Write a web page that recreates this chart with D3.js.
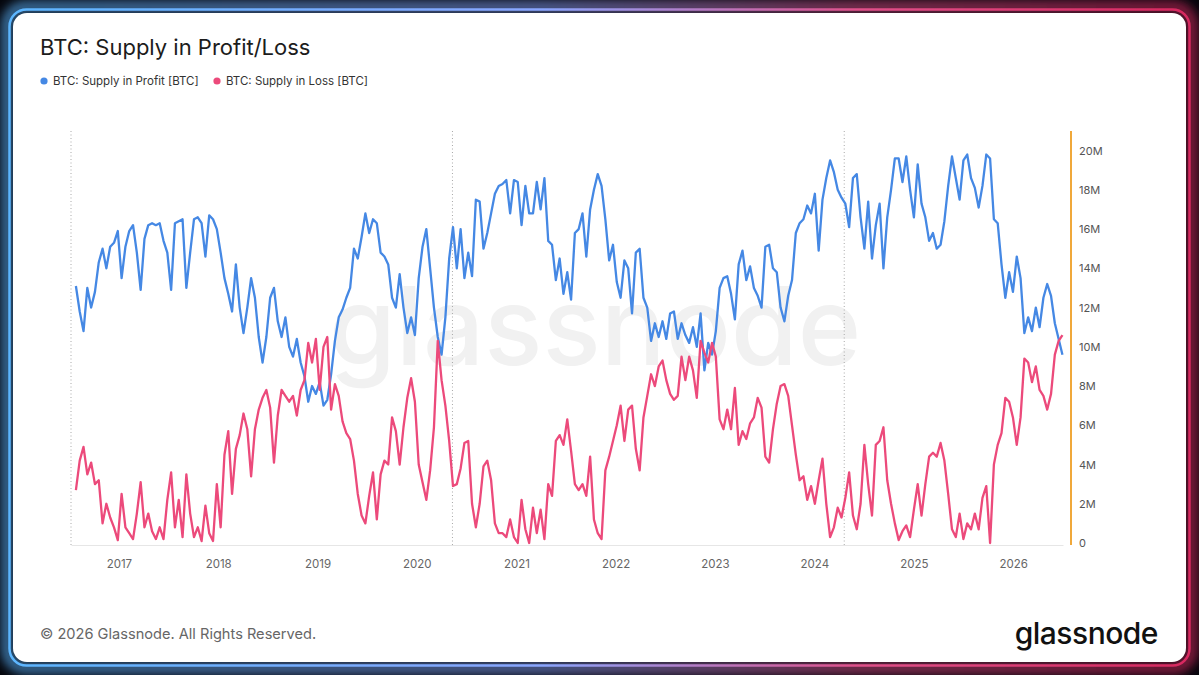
<!DOCTYPE html>
<html>
<head>
<meta charset="utf-8">
<script src="https://cdn.jsdelivr.net/npm/d3@7"></script>
<style>
  html, body { margin: 0; padding: 0; background: #05060c; }
  svg { display: block; }
</style>
</head>
<body>
<svg id="chart"></svg>
<script>
// first sample date and spacing (every 14 days)
const startDate = new Date(2016, 6, 27);
const stepDays = 14;

// BTC: Supply in Profit, millions of BTC
const profit = [
  13.1, 11.8, 10.8, 13.0, 12.0, 12.8, 14.3, 15.0, 14.0, 15.1,
  15.3, 15.9, 13.5, 15.1, 15.9, 16.2, 14.8, 12.9, 15.5, 16.2,
  16.3, 16.2, 16.3, 15.4, 14.8, 12.9, 16.3, 16.4, 16.5, 13.0,
  14.8, 16.5, 16.6, 16.3, 14.6, 16.7, 16.5, 16.0, 14.8, 13.5,
  12.7, 11.8, 14.2, 12.0, 10.7, 12.0, 13.5, 12.5, 10.5, 9.2,
  10.5, 12.5, 13.0, 11.3, 10.5, 11.5, 10.0, 9.5, 10.4, 9.2,
  8.5, 7.2, 8.0, 7.6, 8.2, 7.0, 7.3, 8.6, 10.3, 11.5,
  11.9, 12.5, 13.0, 15.0, 14.5, 15.6, 16.8, 15.8, 16.5, 16.3,
  14.8, 14.6, 14.2, 12.5, 12.0, 13.7, 12.0, 10.7, 11.5, 10.6,
  13.5, 15.1, 16.0, 14.0, 12.0, 10.5, 9.6, 11.5, 14.5, 16.1,
  14.0, 16.0, 13.5, 14.8, 13.6, 17.5, 17.4, 15.0, 15.8, 16.8,
  17.8, 18.2, 18.3, 18.5, 16.8, 18.5, 18.4, 16.2, 18.2, 16.8,
  16.8, 18.4, 17.0, 18.6, 15.4, 15.2, 13.4, 14.5, 12.7, 13.8,
  12.4, 15.8, 16.0, 16.8, 14.6, 17.0, 18.0, 18.8, 18.2, 16.5,
  14.4, 15.2, 13.3, 12.5, 14.4, 14.0, 11.7, 14.8, 15.0, 12.5,
  12.0, 10.3, 11.2, 10.5, 11.3, 10.4, 11.7, 11.8, 10.4, 11.2,
  10.6, 10.2, 11.0, 10.0, 11.7, 8.8, 10.2, 9.6, 10.8, 13.0,
  13.5, 13.6, 12.7, 11.4, 14.2, 14.9, 13.4, 14.1, 13.0, 12.6,
  12.0, 15.1, 15.2, 14.0, 13.8, 12.0, 11.3, 12.6, 13.4, 15.8,
  16.3, 16.5, 17.2, 16.8, 17.8, 14.9, 17.5, 18.6, 19.5, 18.9,
  18.0, 17.6, 17.3, 16.1, 18.6, 18.8, 16.6, 15.0, 17.4, 14.5,
  16.2, 17.3, 14.0, 16.6, 18.0, 19.6, 19.6, 18.4, 19.7, 18.0,
  16.6, 19.3, 17.3, 16.6, 15.4, 15.8, 15.0, 15.2, 16.4, 18.2,
  19.7, 18.6, 17.5, 19.5, 19.8, 18.6, 18.1, 17.1, 18.2, 19.8,
  19.6, 16.5, 16.3, 14.2, 12.5, 13.8, 12.8, 14.6, 13.5, 10.7,
  11.5, 10.8, 12.0, 11.0, 12.5, 13.2, 12.6, 11.2, 10.4, 9.6
];

// BTC: Supply in Loss, millions of BTC
const loss = [
  2.7, 4.2, 4.9, 3.5, 4.1, 3.0, 3.2, 1.0, 2.0, 1.3,
  0.8, 0.15, 2.5, 0.8, 0.5, 0.2, 1.5, 3.1, 0.8, 1.5,
  0.6, 0.2, 0.8, 0.2, 2.2, 3.6, 0.8, 2.2, 0.3, 3.5,
  1.5, 0.3, 0.8, 0.1, 1.9, 0.5, 0.1, 3.0, 0.8, 4.5,
  5.7, 2.5, 4.8, 5.5, 6.6, 5.8, 3.4, 5.8, 6.8, 7.4,
  7.8, 6.9, 4.1, 6.5, 7.8, 7.5, 7.2, 7.5, 6.5, 7.8,
  8.3, 10.2, 9.2, 10.4, 7.8, 10.0, 10.5, 6.8, 8.1, 7.5,
  6.2, 5.6, 5.3, 4.2, 2.5, 1.4, 1.0, 2.4, 3.6, 1.2,
  3.5, 4.2, 4.0, 6.4, 5.7, 4.0, 5.9, 7.4, 8.4, 7.2,
  4.0, 3.1, 2.2, 3.7, 5.9, 10.3, 8.3, 7.0, 5.2, 2.9,
  3.0, 3.8, 5.1, 5.2, 2.0, 0.8, 2.0, 3.9, 4.2, 3.2,
  1.0, 0.5, 0.5, 0.3, 1.2, 0.3, 0.0, 2.2, 0.7, 0.0,
  1.8, 0.5, 1.7, 0.2, 3.0, 2.4, 5.2, 5.5, 5.0, 6.3,
  4.7, 3.0, 2.7, 3.0, 2.4, 4.4, 1.2, 0.5, 0.2, 3.7,
  4.4, 5.2, 6.0, 7.0, 5.2, 6.8, 7.0, 4.8, 3.7, 6.4,
  7.5, 8.6, 8.0, 9.0, 9.3, 8.3, 7.6, 7.3, 7.5, 9.5,
  8.3, 9.5, 8.8, 7.4, 10.3, 9.7, 9.2, 10.2, 9.5, 6.3,
  5.8, 6.8, 5.8, 7.9, 5.0, 5.7, 5.3, 6.1, 6.4, 7.4,
  6.9, 4.4, 4.1, 5.8, 7.1, 8.0, 8.1, 7.5, 6.0, 4.5,
  3.2, 3.4, 2.2, 2.9, 2.0, 3.2, 4.3, 2.0, 0.3, 0.8,
  1.8, 1.3, 2.3, 3.6, 1.4, 0.7, 2.0, 5.0, 3.0, 1.4,
  5.0, 5.2, 5.9, 3.2, 2.0, 1.0, 0.15, 0.6, 0.9, 0.3,
  1.7, 3.0, 1.4, 3.0, 4.4, 4.6, 4.4, 5.1, 4.2, 2.5,
  0.7, 0.3, 1.5, 0.2, 1.0, 0.7, 1.5, 0.7, 2.3, 2.9,
  0.0, 4.0, 5.0, 5.6, 7.4, 7.2, 6.4, 5.0, 6.4, 9.4,
  9.2, 8.2, 9.0, 7.8, 7.5, 6.8, 7.6, 9.6, 10.3, 10.6
];

// halving dates marked with dotted lines
const halvings = ["2016-07-09", "2020-05-11", "2024-04-20"];
const yTicks = [0, 2, 4, 6, 8, 10, 12, 14, 16, 18, 20];
const seriesNames = ["BTC: Supply in Profit [BTC]", "BTC: Supply in Loss [BTC]"];

const W = 1199, H = 675;
const blue = "#4588e4", pink = "#ec4a7b";

const svg = d3.select("#chart").attr("width", W).attr("height", H);
const defs = svg.append("defs");

const grad = defs.append("linearGradient").attr("id", "frame").attr("x1", "0%").attr("x2", "100%");
grad.append("stop").attr("offset", "0%").attr("stop-color", "#5cb6ff");
grad.append("stop").attr("offset", "45%").attr("stop-color", "#8aa6ff");
grad.append("stop").attr("offset", "72%").attr("stop-color", "#e0508a");
grad.append("stop").attr("offset", "100%").attr("stop-color", "#d8285f");

const glow = defs.append("filter").attr("id", "glow")
  .attr("x", "-5%").attr("y", "-5%").attr("width", "110%").attr("height", "110%");
glow.append("feGaussianBlur").attr("stdDeviation", 6);

// outer frame
svg.append("rect").attr("x", 7).attr("y", 7).attr("width", W - 14).attr("height", H - 14)
  .attr("rx", 18).attr("fill", "none").attr("stroke", "url(#frame)")
  .attr("stroke-width", 8).attr("filter", "url(#glow)").attr("opacity", 0.9);
svg.append("rect").attr("x", 9.5).attr("y", 9.5).attr("width", W - 19).attr("height", H - 19)
  .attr("rx", 17).attr("fill", "none").attr("stroke", "url(#frame)").attr("stroke-width", 2.5);
svg.append("rect").attr("x", 13).attr("y", 13).attr("width", W - 26).attr("height", H - 26)
  .attr("rx", 14).attr("fill", "#ffffff");

const x = d3.scaleTime()
  .domain([new Date(2016, 6, 9), new Date(2026, 6, 3)])
  .range([71, 1063]);

const y = d3.scaleLinear()
  .domain([0, 21.05])
  .range([543, 130]);

// watermark
svg.append("text")
  .attr("x", 595).attr("y", 365)
  .attr("text-anchor", "middle")
  .attr("font-family", "Inter, 'Noto Sans', sans-serif")
  .attr("font-size", 108).attr("font-weight", 500)
  .attr("fill", "#f1f1f1")
  .text("glassnode");

// title and legend
svg.append("text")
  .attr("x", 40).attr("y", 55)
  .attr("font-family", "Inter, 'Noto Sans', sans-serif")
  .attr("font-size", 22).attr("fill", "#1c1c1c")
  .text("BTC: Supply in Profit/Loss");

const legend = svg.append("g").attr("transform", "translate(44,81)");
const legendX = [0, 173];
seriesNames.forEach((name, i) => {
  legend.append("circle").attr("cx", legendX[i]).attr("cy", 0).attr("r", 3.6)
    .attr("fill", i === 0 ? blue : pink);
  legend.append("text").attr("x", legendX[i] + 9).attr("y", 4.3)
    .attr("font-family", "Inter, 'Noto Sans', sans-serif")
    .attr("font-size", 11.5).attr("fill", "#333")
    .text(name);
});

// halving markers
svg.append("g").selectAll("line")
  .data(halvings)
  .enter()
  .append("line")
  .attr("x1", d => x(new Date(d)))
  .attr("x2", d => x(new Date(d)))
  .attr("y1", 131).attr("y2", 545)
  .attr("stroke", "#a9a9a9").attr("stroke-width", 1)
  .attr("stroke-dasharray", "1,2.5");

// x axis
const xAxis = d3.axisBottom(x)
  .ticks(d3.timeYear.every(1))
  .tickFormat(d3.timeFormat("%Y"))
  .tickSize(0).tickPadding(15);

const gx = svg.append("g").attr("transform", "translate(0,545)").call(xAxis);
gx.select(".domain").attr("stroke", "#e6e6e6");
gx.selectAll(".tick text")
  .attr("font-family", "Inter, 'Noto Sans', sans-serif")
  .attr("font-size", 11.5).attr("fill", "#666");

// right axis
const yAxis = d3.axisRight(y)
  .tickValues(yTicks)
  .tickFormat(d => d === 0 ? "0" : d + "M")
  .tickSize(0).tickPadding(8);

const gy = svg.append("g").attr("transform", "translate(1071,0)").call(yAxis);
gy.select(".domain").remove();
gy.selectAll(".tick text")
  .attr("font-family", "Inter, 'Noto Sans', sans-serif")
  .attr("font-size", 11).attr("fill", "#555");
gy.append("line").attr("x1", 0).attr("x2", 0).attr("y1", 131).attr("y2", 545)
  .attr("stroke", "#f0a83a").attr("stroke-width", 2);

// series
const dateAt = i => d3.timeDay.offset(startDate, i * stepDays);
const line = d3.line()
  .x((d, i) => x(dateAt(i)))
  .y(d => y(d));

svg.append("path").datum(profit)
  .attr("d", line).attr("fill", "none")
  .attr("stroke", blue).attr("stroke-width", 2.3)
  .attr("stroke-linejoin", "round");

svg.append("path").datum(loss)
  .attr("d", line).attr("fill", "none")
  .attr("stroke", pink).attr("stroke-width", 2.3)
  .attr("stroke-linejoin", "round");

// footer
svg.append("text")
  .attr("x", 40).attr("y", 639)
  .attr("font-family", "Inter, 'Noto Sans', sans-serif")
  .attr("font-size", 14.6).attr("fill", "#666")
  .text("© 2026 Glassnode. All Rights Reserved.");

svg.append("text")
  .attr("x", 1158).attr("y", 644)
  .attr("text-anchor", "end")
  .attr("font-family", "Inter, 'Noto Sans', sans-serif")
  .attr("font-size", 30).attr("font-weight", 500).attr("fill", "#111")
  .attr("letter-spacing", -0.5)
  .text("glassnode");
</script>
</body>
</html>
